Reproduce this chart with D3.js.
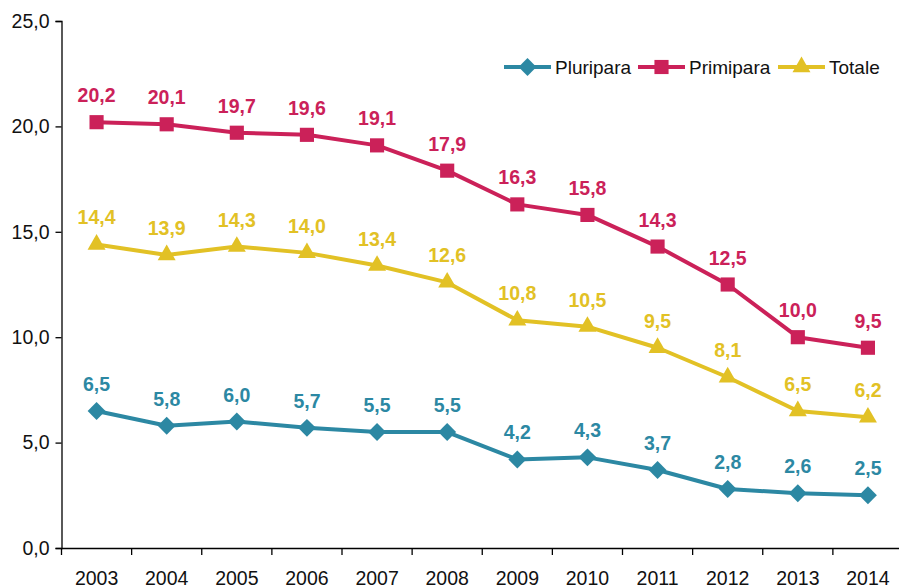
<!DOCTYPE html>
<html><head><meta charset="utf-8">
<script src="https://cdn.jsdelivr.net/npm/d3@7"></script>
<style>body{margin:0;background:#fff}svg{display:block;font-family:"Liberation Sans",Arial,sans-serif}</style>
</head><body><svg id="c" width="899" height="588"></svg>
<script>
const years = ["2003","2004","2005","2006","2007","2008","2009","2010","2011","2012","2013","2014"];
const pluripara = [6.5,5.8,6.0,5.7,5.5,5.5,4.2,4.3,3.7,2.8,2.6,2.5];
const primipara = [20.2,20.1,19.7,19.6,19.1,17.9,16.3,15.8,14.3,12.5,10.0,9.5];
const totale = [14.4,13.9,14.3,14.0,13.4,12.6,10.8,10.5,9.5,8.1,6.5,6.2];
const yTicks = [0,5,10,15,20,25];
const seriesNames = ["Pluripara","Primipara","Totale"];
const colors = ["#2C88A3","#CB2159","#E2C125"];

const series = [
  {name:seriesNames[0], values:pluripara, color:colors[0], sym:d3.symbolSquare, size:160, rot:45},
  {name:seriesNames[1], values:primipara, color:colors[1], sym:d3.symbolSquare, size:200, rot:0},
  {name:seriesNames[2], values:totale, color:colors[2], sym:d3.symbolTriangle, size:140, rot:0}
];

const FONT = "Liberation Sans, Arial, sans-serif";
const svg = d3.select("#c");
const x = d3.scaleBand().domain(years).range([61.5,903]);
const y = d3.scaleLinear().domain([0,25]).range([548,21]);
const fmt = v => d3.format(".1f")(v).replace(".",",");

const gy = svg.append("g").attr("transform","translate(61.5,0)")
  .call(d3.axisLeft(y).tickValues(yTicks).tickFormat(fmt).tickSize(6).tickPadding(6));
gy.select(".domain").attr("stroke","#000").attr("stroke-width",1.3);
gy.selectAll(".tick line").attr("stroke","#000").attr("stroke-width",1.3);
gy.selectAll("text").attr("font-size",19.5).attr("fill","#111").style("font-family",FONT);

const gx = svg.append("g").attr("transform","translate(0,548)")
  .call(d3.axisBottom(x).tickSizeOuter(0).tickSize(0).tickPadding(0));
gx.select(".domain").attr("stroke","#000").attr("stroke-width",1.3);
gx.selectAll("text").attr("font-size",19.5).attr("fill","#111").attr("y",36.5).attr("dy",null).style("font-family",FONT);
// category boundary ticks
const bounds = years.map(d=>x(d)).concat([x.range()[1]]);
svg.append("g").selectAll("line").data(bounds).join("line")
  .attr("x1",d=>d).attr("x2",d=>d).attr("y1",548).attr("y2",555)
  .attr("stroke","#000").attr("stroke-width",1.3);

const line = d3.line().x((d,i)=>x(years[i])+x.bandwidth()/2).y(d=>y(d));

series.forEach(s=>{
  const g = svg.append("g");
  g.append("path").datum(s.values).attr("d",line).attr("fill","none")
    .attr("stroke",s.color).attr("stroke-width",4).attr("stroke-linejoin","round");
  g.selectAll("path.m").data(s.values).join("path").attr("class","m")
    .attr("d",d3.symbol().type(s.sym).size(s.size))
    .attr("transform",(d,i)=>`translate(${x(years[i])+x.bandwidth()/2},${y(d)}) rotate(${s.rot})`)
    .attr("fill",s.color);
  g.selectAll("text").data(s.values).join("text")
    .attr("x",(d,i)=>x(years[i])+x.bandwidth()/2)
    .attr("y",d=>y(d)-20)
    .attr("text-anchor","middle").attr("font-size",19.5).attr("font-weight","bold")
    .attr("fill",s.color).text(fmt);
});

// legend
const legX = [504,638,778];
series.forEach((s,i)=>{
  const g = svg.append("g").attr("transform",`translate(${legX[i]},67)`);
  g.append("line").attr("x1",0).attr("x2",47).attr("y1",0).attr("y2",0).attr("stroke",s.color).attr("stroke-width",4);
  g.append("path").attr("d",d3.symbol().type(s.sym).size(s.size)).attr("transform",`translate(23.5,0) rotate(${s.rot})`).attr("fill",s.color);
  g.append("text").attr("x",51).attr("y",7).attr("font-size",19).attr("fill","#111").text(s.name);
});
</script></body></html>
